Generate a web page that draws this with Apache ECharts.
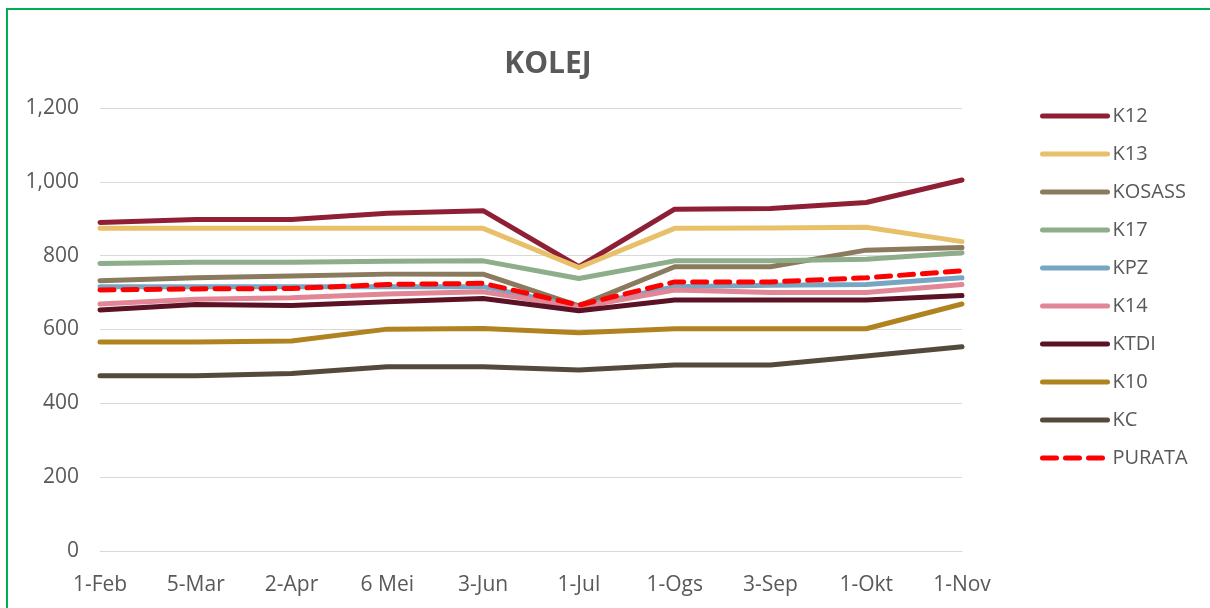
<!DOCTYPE html>
<html>
<head>
<meta charset="utf-8">
<script src="https://cdn.jsdelivr.net/npm/echarts@6/dist/echarts.min.js"></script>
<style>
  html, body { margin: 0; padding: 0; background: #fff; }
  #chart { width: 1210px; height: 608px; }
</style>
</head>
<body>
<div id="chart"></div>
<script>
// tarikh (paksi x)
const dates = ["1-Feb", "5-Mar", "2-Apr", "6 Mei", "3-Jun", "1-Jul", "1-Ogs", "3-Sep", "1-Okt", "1-Nov"];

const k12    = [890, 898, 898, 915, 922, 770, 926, 928, 944, 1005];
const k13    = [874, 874, 874, 874, 874, 768, 874, 875, 877, 838];
const kosass = [732, 740, 745, 750, 750, 664, 770, 770, 815, 822];
const k17    = [779, 782, 782, 785, 786, 738, 786, 786, 790, 808];
const kpz    = [716, 716, 716, 716, 716, 662, 716, 720, 722, 740];
const k14    = [669, 682, 686, 696, 702, 660, 707, 700, 700, 722];
const ktdi   = [653, 668, 665, 675, 684, 651, 680, 680, 680, 692];
const k10    = [566, 566, 569, 601, 603, 591, 602, 602, 602, 669];
const kc     = [475, 475, 481, 499, 499, 490, 504, 504, 528, 553];
const purata = [707, 710, 711, 722, 725, 666, 729, 729, 740, 759];

const yTicks = [0, 200, 400, 600, 800, 1000, 1200];

const font = "'Open Sans', 'Liberation Sans', sans-serif";

function line(name, data, color, dashed) {
  return {
    name: name,
    type: "line",
    data: data,
    symbol: "none",
    smooth: false,
    lineStyle: {
      color: color,
      width: 5,
      type: dashed ? [14, 9] : "solid",
      cap: "round",
      join: "round"
    },
    itemStyle: { color: color },
    emphasis: { disabled: true }
  };
}

const chart = echarts.init(document.getElementById("chart"));

chart.setOption({
  animation: false,
  title: {
    text: "KOLEJ",
    left: 543,
    textAlign: "center",
    top: 44,
    textStyle: { fontFamily: font, fontSize: 30, fontWeight: "bold", color: "#595959" }
  },
  graphic: [{
    type: "rect",
    shape: { x: 7, y: 9, width: 1300, height: 700 },
    style: { fill: "none", stroke: "#00B050", lineWidth: 2 },
    silent: true
  }],
  legend: {
    orient: "vertical",
    left: 1035,
    top: 101,
    itemWidth: 65,
    itemHeight: 14,
    itemGap: 18,
    itemStyle: { opacity: 0 },
    lineStyle: { width: 5, cap: "round" },
    textStyle: { fontFamily: font, fontSize: 20, color: "#595959" },
    data: ["K12", "K13", "KOSASS", "K17", "KPZ", "K14", "KTDI", "K10", "KC", "PURATA"]
  },
  grid: { left: 100, right: 248, top: 108, bottom: 57, containLabel: false },
  xAxis: {
    type: "category",
    data: dates,
    boundaryGap: false,
    axisLine: { show: true, lineStyle: { color: "#D9D9D9", width: 1 } },
    axisTick: { show: false },
    axisLabel: { margin: 24, fontFamily: font, fontSize: 21, color: "#595959" }
  },
  yAxis: {
    type: "value",
    min: yTicks[0],
    max: yTicks[yTicks.length - 1],
    interval: 200,
    axisLine: { show: false },
    axisTick: { show: false },
    splitLine: { lineStyle: { color: "#D9D9D9", width: 1 } },
    axisLabel: {
      margin: 21,
      fontFamily: font,
      fontSize: 21,
      color: "#595959",
      formatter: v => v.toLocaleString("en-US")
    }
  },
  series: [
    line("K12", k12, "#8E1F35"),
    line("K13", k13, "#E8C06A"),
    line("KOSASS", kosass, "#8A7A5E"),
    line("K17", k17, "#8EAD8B"),
    line("KPZ", kpz, "#77A6C2"),
    line("K14", k14, "#E28594"),
    line("KTDI", ktdi, "#5A1224"),
    line("K10", k10, "#B08320"),
    line("KC", kc, "#534A3B"),
    line("PURATA", purata, "#FF0000", true)
  ]
});
</script>
</body>
</html>
